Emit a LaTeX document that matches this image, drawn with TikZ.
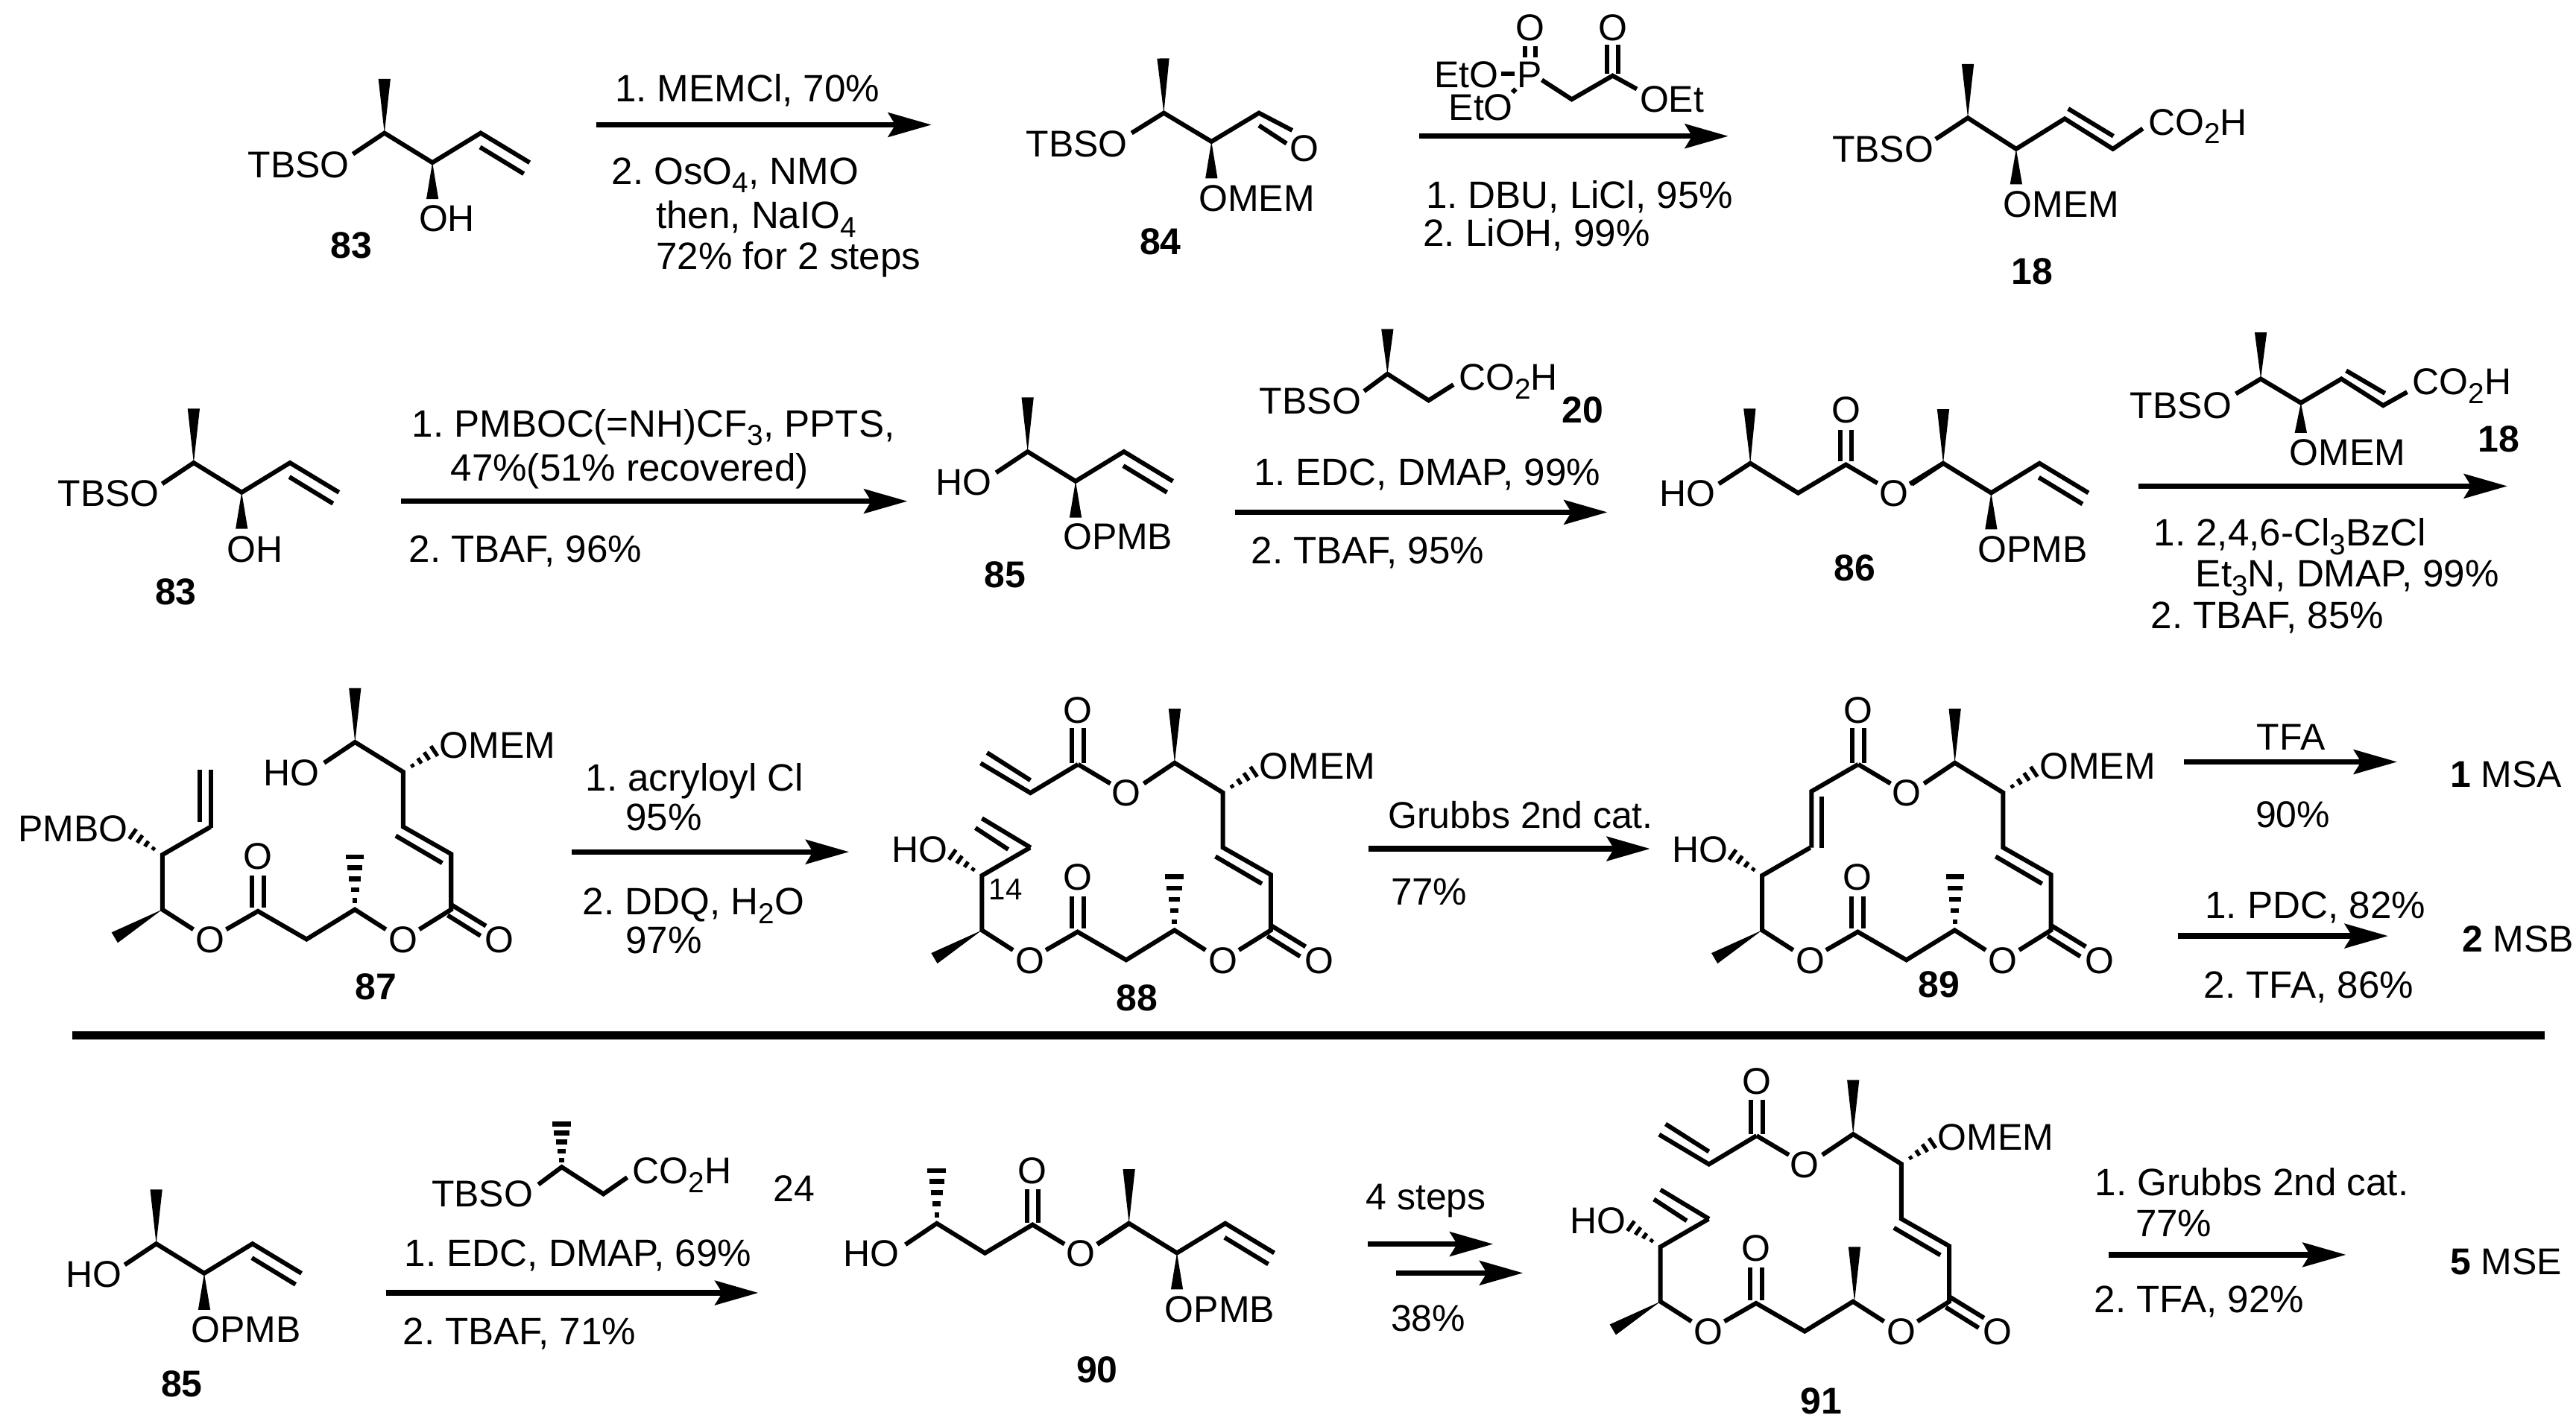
\documentclass[tikz,border=0pt]{standalone}
\usepackage{fontspec}
\usepackage{tikz}
\usetikzlibrary{calc,arrows.meta}
\setmainfont{Liberation Sans}
\frenchspacing

\newcommand{\sbs}[1]{\raisebox{-3pt}{\fontsize{10}{10}\selectfont #1}}
\newcommand{\wedgeb}[2]{\fill #1 -- ($#2!2.1pt!90:#1$) -- ($#2!2.1pt!-90:#1$) -- cycle;}
\newcommand{\hashb}[2]{%
  \foreach \t in {.3,.53,.76,1} {
    \coordinate (hb) at ($#1!\t!#2$);
    \draw[hashline] ($(hb)!\t*2.1pt!90:#1$) -- ($(hb)!\t*2.1pt!-90:#1$);
  }}
\newcommand{\hashme}[2]{%
  \foreach \t in {.16,.37,.58,.79,1} {
    \coordinate (hb) at ($#1!\t!#2$);
    \draw[hashthick] ($(hb)!\t*2.8pt+.4pt!90:#1$) -- ($(hb)!\t*2.8pt+.4pt!-90:#1$);
  }}
\newcommand{\reaction}[4]{%
  \coordinate (#1s) at (#2,#4);
  \coordinate (#1e) at (#3,#4);
  \draw[rxnarrow] (#1s) -- (#1e);}
\newcommand{\allyl}[2]{%
  \begin{scope}[shift={(#1,#2)}]
    \wedgeb{(0,0)}{(0,-33)}
    \wedgeb{(29.2,18)}{(29.2,40.2)}
    \draw[bond] (-19.2,12.8) -- (0,0) -- (29.2,18) -- (58.6,0) -- (88.4,18);
    \draw[bond] (58.2,8.6) -- (84.8,24.8);
  \end{scope}}
\newcommand{\lactone}[4]{%
  \begin{scope}[shift={(#2,#3)}]
    \wedgeb{(0,0)}{(-29,17.1)}
    \hashb{(0,-33.3)}{(-18,-46)}
    \wedgeb{(117.3,-101.9)}{(117.3,-134.9)}
    \hashb{(146.6,-83.8)}{(165.5,-96.5)}
    \draw[bond] (18.9,12.1) -- (0,0) -- (0,-33.3) -- (29.3,-50.3);
    \draw[bond] (38.9,12.1) -- (58.2,1) -- (87.8,18.1) -- (117.2,0) -- (136.1,12.1);
    \draw[bond] (54.6,-20.7) -- (54.6,-1);
    \draw[bond] (61.8,-20.7) -- (61.8,-1);
    \draw[bond] (156.4,12.1) -- (175.8,0) -- (175.8,-33.8) -- (146.6,-50.4)
      -- (146.6,-83.8) -- (117.3,-101.9) -- (98.5,-89.3);
    \draw[bond] (175.8,-3) -- (197,10);
    \draw[bond] (173.7,3.5) -- (193.7,16);
    \draw[bond] (142.1,-44.9) -- (170.4,-28.3);
    \node[lab] (#1o1) at (29.3,18.1) {O};
    \node[lab] (#1o2) at (58.2,-32.5) {O};
    \node[lab] (#1o3) at (146.6,18.1) {O};
    \node[lab] (#1o4) at (205.3,18.1) {O};
    \node[labw] (#1mem) at (168.5,-100.2) {OMEM};
    \node[labe] (#1oh) at (-20.6,-49.4) {#4};
  \end{scope}}
\newcommand{\topester}[3]{%
  \begin{scope}[shift={(#2,#3)}]
    \draw[bond] (78.2,-89.3) -- (58.5,-101);
    \draw[bond] (54.9,-123) -- (54.9,-102);
    \draw[bond] (62.1,-123) -- (62.1,-102);
    \node[lab] (#1o5) at (87.8,-83.7) {O};
    \node[lab] (#1o6) at (58.5,-134.2) {O};
  \end{scope}}
\newcommand{\acrylpart}[2]{%
  \begin{scope}[shift={(#1,#2)}]
    \draw[bond] (58.5,-101) -- (29.5,-83.6) -- (-.8,-101.7);
    \draw[bond] (29.5,-91.3) -- (3.1,-108.1);
    \draw[bond] (29.6,-50.3) -- (0,-68.1);
    \draw[bond] (16,-49.2) -- (-4,-62.3);
  \end{scope}}

\begin{document}
\begin{tikzpicture}[
    x=0.02cm, y=-0.02cm,
    bond/.style={line width=1.55pt},
    hashline/.style={line width=1.3pt},
    hashthick/.style={line width=1.7pt},
    lab/.style={inner sep=0pt, yshift=-4.6pt, anchor=base, font=\fontsize{12.9}{15}\selectfont},
    labw/.style={lab, anchor=base west},
    labe/.style={lab, anchor=base east},
    rxn/.style={labw, font=\fontsize{13.2}{15}\selectfont},
    cmpd/.style={lab, font=\fontsize{12.9}{15}\selectfont\bfseries},
    rxnarrow/.style={line width=1.9pt, -{Stealth[length=15pt,width=8.4pt,inset=2.5pt]}}
  ]
  \useasboundingbox (0,0) rectangle (1568,863.4);

  \allyl{234}{81}
  \node[labe] (tbso83) at (213,100) {TBSO};
  \node[lab] (oh83) at (272,133) {OH};
  \node[cmpd] (n83) at (214,149) {83};
  \reaction{a1}{363}{567}{76}
  \node[rxn] (t1a) at (374,54) {1. MEMCl, 70\%};
  \node[rxn] (t1b) at (372,104) {2. OsO\sbs{4}, NMO};
  \node[rxn] (t1c) at (399,131) {then, NaIO\sbs{4}};
  \node[rxn] (t1d) at (399,156) {72\% for 2 steps};

  \wedgeb{(708.4,68.8)}{(708,35.6)}
  \wedgeb{(737.4,86.2)}{(737.4,108.6)}
  \draw[bond] (688.8,81) -- (708.4,68.8) -- (737.4,86.2) -- (766.3,68.8) -- (786.6,79.4);
  \draw[bond] (766.3,76.4) -- (783.1,87.4);
  \node[labe] (tbso84) at (686.7,87.4) {TBSO};
  \node[lab] (o84) at (794,90) {O};
  \node[lab] (mem84) at (764.9,120.7) {OMEM};
  \node[cmpd] (n84) at (706.4,147) {84};
  \reaction{a2}{863.8}{1052}{82.9}
  \node[labw] (eto1) at (872.8,45.4) {EtO};
  \node[lab] (p1) at (931.2,45.4) {P};
  \node[labw] (eto2) at (881.5,65) {EtO};
  \node[lab] (o1) at (931.2,16.6) {O};
  \node[lab] (o2) at (981.6,16.6) {O};
  \node[labw] (oet) at (997.8,60.2) {OEt};
  \draw[bond] (913.9,45) -- (922,45);
  \draw[bond] (922.6,54.2) -- (920.6,56.3);
  \draw[bond] (928.3,28) -- (928.3,35);
  \draw[bond] (934.7,28) -- (934.7,35);
  \draw[bond] (938.5,48.7) -- (956.7,60.5) -- (981.6,46.1) -- (996.3,54.2);
  \draw[bond] (978.1,27.2) -- (978.1,45);
  \draw[bond] (985,27.2) -- (985,45);
  \node[rxn] (t2a) at (867.6,118.8) {1. DBU, LiCl, 95\%};
  \node[rxn] (t2b) at (866,142) {2. LiOH, 99\%};

  \wedgeb{(1197.8,71.8)}{(1197.8,39)}
  \wedgeb{(1227.2,90.7)}{(1227.2,112.2)}
  \draw[bond] (1178.2,84.7) -- (1197.8,71.8) -- (1227.2,90.7) -- (1256.8,72.3) -- (1286.1,90.7) -- (1304.3,78.3);
  \draw[bond] (1258.9,66.2) -- (1286.4,82.9);
  \node[labe] (tbso18) at (1177.3,90.7) {TBSO};
  \node[labw] (mem18) at (1219,124.3) {OMEM};
  \node[labw] (acid18) at (1307.3,74.1) {CO\sbs{2}H};
  \node[cmpd] (n18) at (1237,164.9) {18};

  \allyl{117.9}{281.8}
  \node[labe] (tbso83b) at (97.3,300.2) {TBSO};
  \node[lab] (oh83b) at (155.3,334.3) {OH};
  \node[cmpd] (n83b) at (107,360) {83};
  \reaction{a3}{243.9}{552.3}{305.2}
  \node[rxn] (t3a) at (250.4,257.9) {1. PMBOC(=NH)CF\sbs{3}, PPTS,};
  \node[rxn] (t3b) at (274,285) {47\%(51\% recovered)};
  \node[rxn] (t3c) at (248.6,334.3) {2. TBAF, 96\%};

  \allyl{625.5}{275}
  \node[labe] (ho85) at (604,293.4) {HO};
  \node[labw] (pmb85) at (646.7,326.7) {OPMB};
  \node[cmpd] (n85) at (611.6,349.7) {85};
  \wedgeb{(844.5,227.7)}{(844.5,200.4)}
  \draw[bond] (830.3,238.2) -- (844.5,227.7) -- (869.6,243.8) -- (884.7,234.2);
  \node[labe] (tbso20) at (828.8,243.8) {TBSO};
  \node[labw] (acid20) at (887.7,229.6) {CO\sbs{2}H};
  \node[cmpd] (n20) at (963.3,249.3) {20};
  \reaction{a4}{751.6}{978.4}{311.9}
  \node[rxn] (t4a) at (762.8,287.7) {1. EDC, DMAP, 99\%};
  \node[rxn] (t4b) at (761.3,335) {2. TBAF, 95\%};

  \allyl{1182.8}{282.1}
  \wedgeb{(1065.4,282.1)}{(1065,248.8)}
  \draw[bond] (1046.2,294.6) -- (1065.4,282.1) -- (1094.5,300.2) -- (1123.6,282.9) -- (1142.8,294.2);
  \draw[bond] (1120,261.7) -- (1120,281);
  \draw[bond] (1127.2,261.7) -- (1127.2,281);
  \draw[bond] (1162.5,294.6) -- (1182.8,282.1);
  \node[labe] (ho86) at (1044.7,300.2) {HO};
  \node[lab] (o86a) at (1123.6,249.6) {O};
  \node[lab] (o86b) at (1152.6,300.2) {O};
  \node[labw] (pmb86) at (1203.5,334.3) {OPMB};
  \node[cmpd] (n86) at (1129,345.6) {86};
  \wedgeb{(1376.1,230.7)}{(1376.1,202.4)}
  \wedgeb{(1400.5,245.3)}{(1400.5,263.5)}
  \draw[bond] (1360.9,239.8) -- (1376.1,230.7) -- (1400.5,245.3) -- (1425.2,230.7) -- (1450.6,246.9) -- (1465.2,238.7);
  \draw[bond] (1428.1,225.7) -- (1451.7,239.5);
  \node[labe] (tbso18b) at (1358.7,246.6) {TBSO};
  \node[labw] (mem18b) at (1393.2,275.3) {OMEM};
  \node[labw] (acid18b) at (1468.1,232.2) {CO\sbs{2}H};
  \node[cmpd] (n18b) at (1520.8,267) {18};
  \reaction{a5}{1301.6}{1526.2}{296}
  \node[rxn] (t5a) at (1310.7,324.4) {1. 2,4,6-Cl\sbs{3}BzCl};
  \node[rxn] (t5b) at (1336.2,349.4) {Et\sbs{3}N, DMAP, 99\%};
  \node[rxn] (t5c) at (1308.9,374.4) {2. TBAF, 85\%};

  \lactone{m87}{98.8}{553.8}{PMBO}
  \hashme{(216,553.5)}{(216,521.8)}
  \draw[bond] (128.4,504) -- (128.4,468.8);
  \draw[bond] (121.5,500.6) -- (121.5,468.8);
  \node[labe] (ho87) at (194.7,470.3) {HO};
  \node[cmpd] (n87) at (229,600.4) {87};
  \reaction{a6}{348.1}{516.8}{518.7}
  \node[rxn] (t6a) at (356.1,473.4) {1. acryloyl Cl};
  \node[rxn] (t6b) at (380.4,497.6) {95\%};
  \node[rxn] (t6c) at (354.4,549) {2. DDQ, H\sbs{2}O};
  \node[rxn] (t6d) at (380.4,572.4) {97\%};

  \lactone{m88}{597.7}{566.4}{HO}
  \topester{m88}{597.7}{566.4}
  \acrylpart{597.7}{566.4}
  \hashme{(714.8,566.4)}{(714.8,533.9)}
  \node[labw, font=\fontsize{10.4}{12}\selectfont, yshift=1pt] (c14) at (601.7,541.4) {14};
  \node[cmpd] (n88) at (692.2,607.2) {88};
  \reaction{a7}{833}{1004.4}{516.8}
  \node[labw] (t7a) at (844.6,496) {Grubbs 2nd cat.};
  \node[rxn] (t7b) at (846.3,542.9) {77\%};

  \lactone{m89}{1072.6}{566.4}{HO}
  \topester{m89}{1072.6}{566.4}
  \hashme{(1190,566.4)}{(1190,533.9)}
  \draw[bond] (1131.1,465.4) -- (1102.7,481.8) -- (1102.7,516.1);
  \draw[bond] (1108.9,484.8) -- (1108.9,516.5);
  \node[cmpd] (n89) at (1180.4,599) {89};
  \reaction{a8}{1329.5}{1459.1}{463.9}
  \node[lab] (t8a) at (1394.5,448.5) {TFA};
  \node[lab] (t8b) at (1395.6,495.8) {90\%};
  \node[labw] (msa) at (1491,471.2) {\textbf{1} MSA};
  \reaction{a9}{1325.9}{1453.6}{569.9}
  \node[rxn] (t9a) at (1341.9,551.3) {1. PDC, 82\%};
  \node[rxn] (t9b) at (1341.1,599.7) {2. TFA, 86\%};
  \node[labw] (msb) at (1498.3,571.7) {\textbf{2} MSB};

  \coordinate (divl) at (43.9,630.3);
  \coordinate (divr) at (1549.1,630.3);
  \draw[line width=2.9pt] (divl) -- (divr);

  \allyl{95.1}{757.3}
  \node[labe] (ho85b) at (74.4,775.6) {HO};
  \node[labw] (pmb85b) at (116.1,809.2) {OPMB};
  \node[cmpd] (n85b) at (110.7,842.5) {85};
  \hashme{(341.9,710.6)}{(341.9,684.4)}
  \draw[bond] (327.7,721.2) -- (341.9,710.6) -- (367.3,727) -- (381.8,716.9);
  \node[labe] (tbso24) at (324.8,726.8) {TBSO};
  \node[labw] (acid24) at (384.7,712.7) {CO\sbs{2}H};
  \node[lab] (n24) at (483.4,723.3) {24};
  \reaction{a10}{235.2}{461.6}{787.2}
  \node[rxn] (t10a) at (246,763) {1. EDC, DMAP, 69\%};
  \node[rxn] (t10b) at (245,810.7) {2. TBAF, 71\%};

  \allyl{687.2}{744.9}
  \hashme{(570.2,744.9)}{(570.2,712.7)}
  \draw[bond] (551.1,757.8) -- (570.2,744.9) -- (599.5,763) -- (628.5,745.7) -- (647.9,757.5);
  \draw[bond] (625.2,724.2) -- (625.2,744.7);
  \draw[bond] (632.2,724.2) -- (632.2,744.7);
  \draw[bond] (667.8,757.5) -- (687.2,744.9);
  \node[labe] (ho90) at (547.5,763) {HO};
  \node[lab] (o90a) at (628.5,712.4) {O};
  \node[lab] (o90b) at (657.9,763) {O};
  \node[labw] (pmb90) at (708.7,796.8) {OPMB};
  \node[cmpd] (n90) at (667.8,833.7) {90};
  \reaction{a11}{832.6}{908.9}{757.5}
  \reaction{a12}{849.9}{927}{775.1}
  \node[labw] (t11a) at (831.1,728.3) {4 steps};
  \node[labw] (t11b) at (846.3,802.4) {38\%};

  \lactone{m91}{1010.7}{792.5}{HO}
  \topester{m91}{1010.7}{792.5}
  \acrylpart{1010.7}{792.5}
  \wedgeb{(1128.8,792.5)}{(1128.8,759.2)}
  \node[cmpd] (n91) at (1108.5,853) {91};
  \reaction{a13}{1283.6}{1428}{764}
  \node[rxn] (t12a) at (1274.9,719.9) {1. Grubbs 2nd cat.};
  \node[rxn] (t12b) at (1299.5,744.9) {77\%};
  \node[rxn] (t12c) at (1274.4,791) {2. TFA, 92\%};
  \node[labw] (mse) at (1491,768) {\textbf{5} MSE};
\end{tikzpicture}
\end{document}
